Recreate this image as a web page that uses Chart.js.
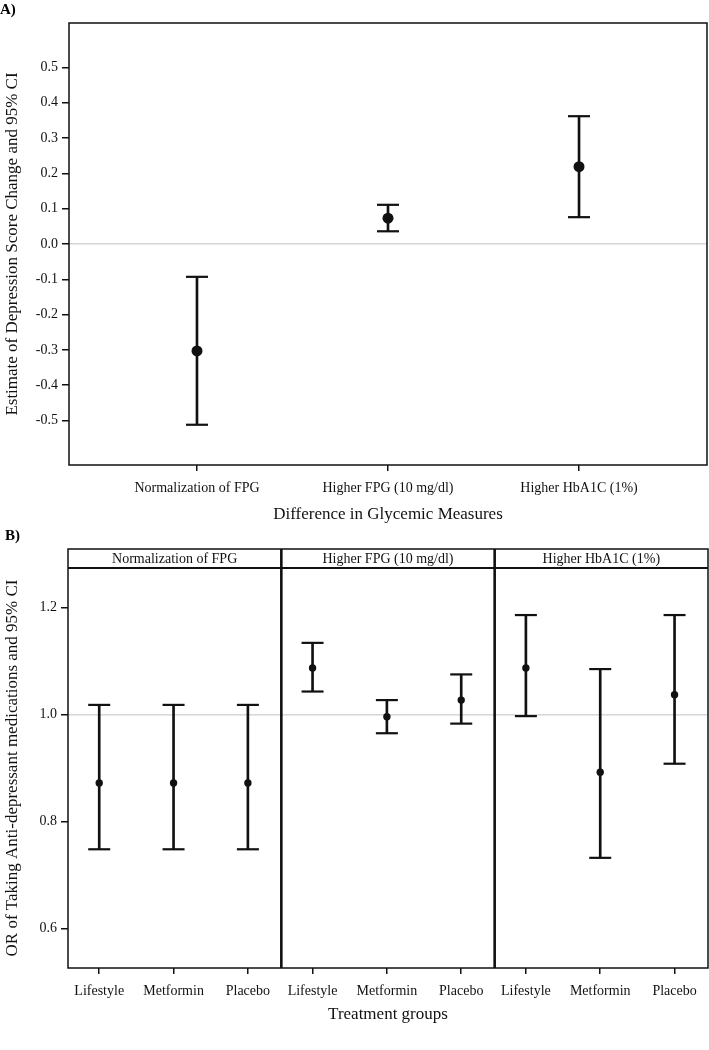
<!DOCTYPE html>
<html>
<head>
<meta charset="utf-8">
<script src="https://cdn.jsdelivr.net/npm/chart.js@4.4.1/dist/chart.umd.min.js"></script>
<style>
  body { margin: 0; background: #fff; font-family: "Liberation Serif", "DejaVu Serif", serif; overflow: hidden; }
  .panel { position: relative; width: 709px; height: 525px; }
  .tag { position: absolute; font-weight: bold; font-size: 15px; color: #000; }
  canvas { display: block; }
</style>
</head>
<body>
<div class="panel">
  <div class="tag" style="left:0px; top:1px;">A)</div>
  <canvas id="chart-a" width="709" height="525"></canvas>
</div>
<div class="panel">
  <div class="tag" style="left:5px; top:2px;">B)</div>
  <canvas id="chart-b" width="709" height="525"></canvas>
</div>
<script>
// Panel A: estimate of depression score change
const A_CATEGORIES = ['Normalization of FPG', 'Higher FPG (10 mg/dl)', 'Higher HbA1C (1%)'];
const A_ESTIMATE = [-0.303, 0.073, 0.219];
const A_LOWER = [-0.512, 0.036, 0.076];
const A_UPPER = [-0.093, 0.111, 0.362];
const A_TICKS = [-0.5, -0.4, -0.3, -0.2, -0.1, 0.0, 0.1, 0.2, 0.3, 0.4, 0.5];

// Panel B: odds ratio by treatment group, one row per facet
const B_FACETS = ['Normalization of FPG', 'Higher FPG (10 mg/dl)', 'Higher HbA1C (1%)'];
const B_GROUPS = ['Lifestyle', 'Metformin', 'Placebo'];
const B_ESTIMATE = [[0.872, 0.872, 0.872], [1.087, 0.996, 1.027], [1.087, 0.892, 1.037]];
const B_LOWER = [[0.748, 0.748, 0.748], [1.043, 0.965, 0.983], [0.997, 0.732, 0.908]];
const B_UPPER = [[1.018, 1.018, 1.018], [1.134, 1.027, 1.075], [1.186, 1.085, 1.186]];
const B_TICKS = [0.6, 0.8, 1.0, 1.2];

const FONT = '"Liberation Serif", "DejaVu Serif", serif';
const INK = '#111';
const FACET_SPAN = 2.87;
const GROUP_OFFSET = 0.42;

function errorBarDatasets(xs, est, lo, hi, dotRadius, capHalf) {
  return [
    {
      type: 'bar',
      data: xs.map((x, i) => ({ x, y: [lo[i], hi[i]] })),
      backgroundColor: INK,
      barThickness: 2,
      grouped: false,
    },
    {
      type: 'line',
      showLine: false,
      data: xs.flatMap((x, i) => [{ x, y: lo[i] }, { x, y: hi[i] }]),
      pointStyle: 'line',
      pointRadius: capHalf,
      borderColor: INK,
      borderWidth: 2.2,
    },
    {
      type: 'line',
      showLine: false,
      data: xs.map((x, i) => ({ x, y: est[i] })),
      pointRadius: dotRadius,
      backgroundColor: INK,
      borderWidth: 0,
    },
  ];
}

function baseOptions(cfg) {
  return {
    responsive: false,
    animation: false,
    layout: { padding: cfg.padding, autoPadding: false },
    plugins: { legend: { display: false }, tooltip: { enabled: false } },
    scales: {
      x: {
        type: 'linear',
        min: cfg.xMin,
        max: cfg.xMax,
        offset: false,
        afterBuildTicks: (scale) => { scale.ticks = cfg.xTicks.map((v) => ({ value: v })); },
        afterFit: (scale) => {
          scale.height = cfg.xHeight;
          scale.paddingLeft = 0;
          scale.paddingRight = 0;
        },
        border: { display: false },
        grid: { offset: false, drawOnChartArea: false, tickLength: 6, tickColor: INK, lineWidth: 1.5 },
        ticks: {
          color: INK,
          padding: 9,
          maxRotation: 0,
          autoSkip: false,
          font: { family: FONT, size: 14 },
          callback: (value, index) => cfg.xLabels[index],
        },
        title: {
          display: true,
          text: cfg.xTitle,
          color: INK,
          padding: { top: 0, bottom: 0 },
          font: { family: FONT, size: 17 },
        },
      },
      y: {
        min: cfg.yMin,
        max: cfg.yMax,
        afterBuildTicks: (scale) => { scale.ticks = cfg.yTicks.map((v) => ({ value: v })); },
        afterFit: (scale) => {
          scale.width = cfg.yWidth;
          scale.paddingTop = 0;
          scale.paddingBottom = 0;
        },
        border: { display: false },
        grid: {
          color: (c) => (c.tick && Math.abs(c.tick.value - cfg.refLine) < 1e-9 ? '#d6d6d6' : 'transparent'),
          lineWidth: 1.5,
          tickLength: 7,
          tickColor: INK,
        },
        ticks: {
          color: INK,
          padding: 4,
          font: { family: FONT, size: 14 },
          callback: (value) => Number(value).toFixed(1),
        },
        title: {
          display: true,
          text: cfg.yTitle,
          color: INK,
          padding: { top: 2, bottom: 0 },
          font: { family: FONT, size: 17 },
        },
      },
    },
  };
}

// Panel A
const aXs = A_CATEGORIES.map((_, i) => i);
new Chart(document.getElementById('chart-a'), {
  type: 'bar',
  data: { datasets: errorBarDatasets(aXs, A_ESTIMATE, A_LOWER, A_UPPER, 5.5, 11) },
  options: baseOptions({
    padding: { top: 23, right: 2, bottom: 0, left: 0 },
    xMin: -0.67, xMax: 2.67, xTicks: aXs, xLabels: A_CATEGORIES, xHeight: 60,
    xTitle: 'Difference in Glycemic Measures',
    yMin: -0.626, yMax: 0.626, yTicks: A_TICKS, yWidth: 69, refLine: 0,
    yTitle: 'Estimate of Depression Score Change and 95% CI',
  }),
  plugins: [{
    id: 'frameA',
    afterDraw(chart) {
      const { ctx, chartArea: a } = chart;
      ctx.save();
      ctx.strokeStyle = INK;
      ctx.lineWidth = 1.5;
      ctx.strokeRect(a.left, a.top, a.right - a.left, a.bottom - a.top);
      ctx.restore();
    },
  }],
});

// Panel B
const bXs = [];
const bLabels = [];
B_FACETS.forEach((_, f) => B_GROUPS.forEach((g, k) => {
  bXs.push(f * FACET_SPAN + GROUP_OFFSET + k);
  bLabels.push(g);
}));
const flat = (rows) => rows.flat();

new Chart(document.getElementById('chart-b'), {
  type: 'bar',
  data: { datasets: errorBarDatasets(bXs, flat(B_ESTIMATE), flat(B_LOWER), flat(B_UPPER), 3.7, 11) },
  options: baseOptions({
    padding: { top: 43, right: 1, bottom: 25, left: 0 },
    xMin: 0, xMax: FACET_SPAN * B_FACETS.length, xTicks: bXs, xLabels: bLabels, xHeight: 57,
    xTitle: 'Treatment groups',
    yMin: 0.526, yMax: 1.274, yTicks: B_TICKS, yWidth: 68, refLine: 1.0,
    yTitle: 'OR of Taking Anti-depressant medications and 95% CI',
  }),
  plugins: [{
    id: 'facetsB',
    afterDraw(chart) {
      const { ctx, chartArea: a, scales } = chart;
      const stripTop = a.top - 19;
      ctx.save();
      ctx.strokeStyle = INK;
      ctx.lineWidth = 1.5;
      ctx.strokeRect(a.left, stripTop, a.right - a.left, a.bottom - stripTop);
      ctx.lineWidth = 2.2;
      ctx.beginPath();
      ctx.moveTo(a.left, a.top);
      ctx.lineTo(a.right, a.top);
      ctx.stroke();
      ctx.lineWidth = 2.6;
      for (let f = 1; f < B_FACETS.length; f++) {
        const x = scales.x.getPixelForValue(f * FACET_SPAN);
        ctx.beginPath();
        ctx.moveTo(x, stripTop);
        ctx.lineTo(x, a.bottom);
        ctx.stroke();
      }
      ctx.fillStyle = INK;
      ctx.font = `14px ${FONT}`;
      ctx.textAlign = 'center';
      ctx.textBaseline = 'middle';
      B_FACETS.forEach((name, f) => {
        const cx = scales.x.getPixelForValue((f + 0.5) * FACET_SPAN);
        ctx.fillText(name, cx, stripTop + 10);
      });
      ctx.restore();
    },
  }],
});
</script>
</body>
</html>
